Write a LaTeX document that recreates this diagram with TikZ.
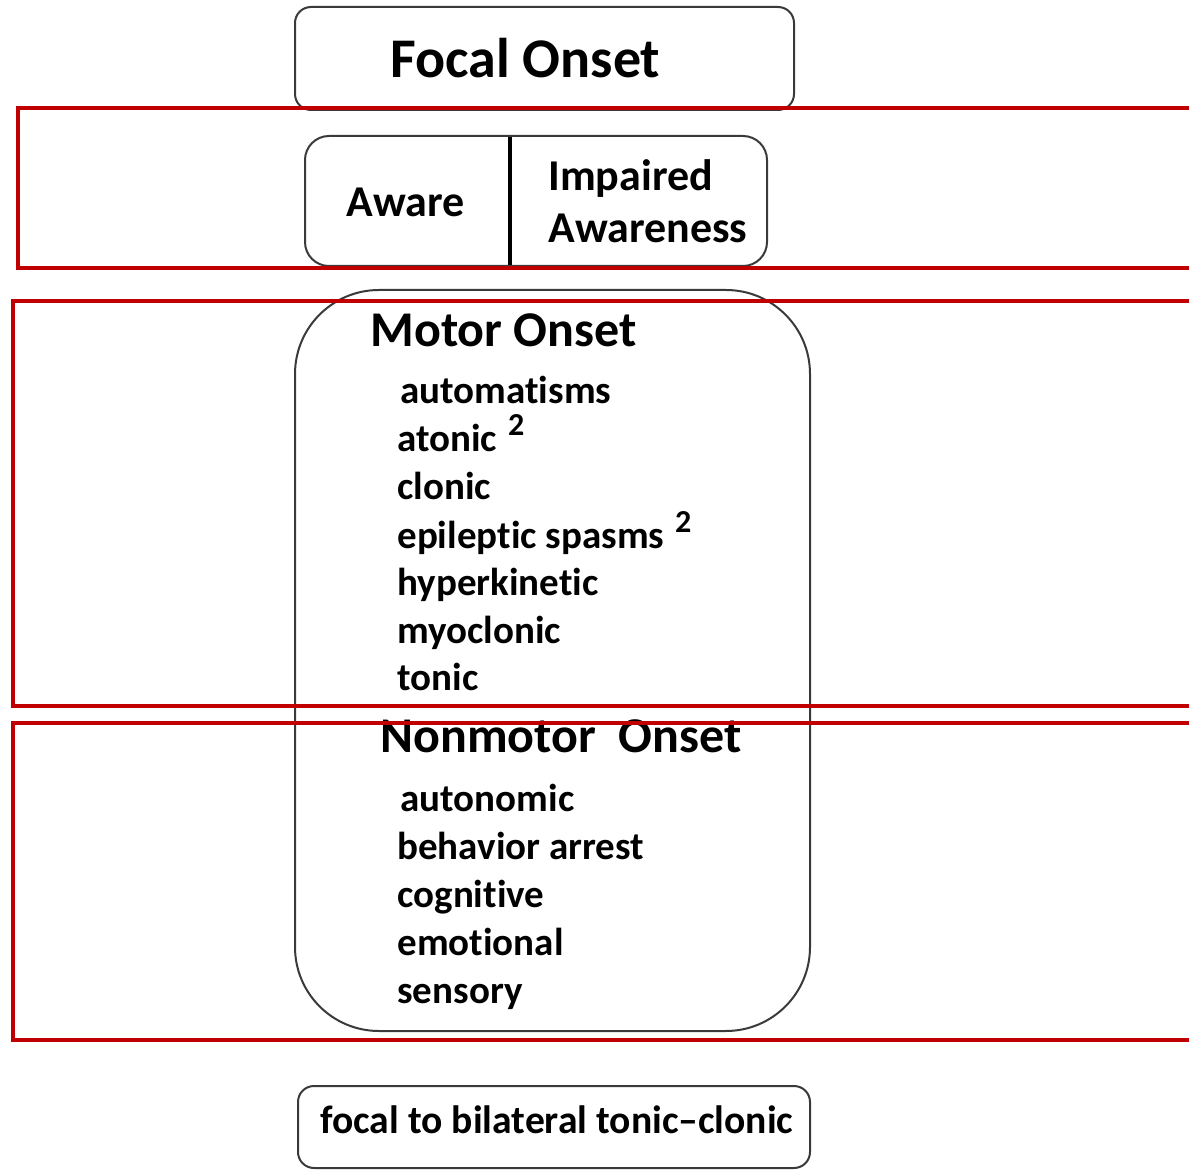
\documentclass[tikz,border=0pt]{standalone}
\usepackage{fontspec}
\setmainfont{Carlito}[RawFeature=-liga]
\usetikzlibrary{positioning}
\definecolor{BoxGray}{HTML}{3A3A3A}
\definecolor{FrameRed}{HTML}{C00000}

\begin{document}
\begin{tikzpicture}[x=0.5pt, y=-0.5pt,
		box/.style={draw=BoxGray, line width=1pt},
		redframe/.style={draw=FrameRed, line width=2pt},
		label/.style={inner sep=0pt, anchor=base west, text=black},
		listitem/.style={label, font=\bfseries\fontsize{19.5}{23}\selectfont},
		heading/.style={label, font=\bfseries\fontsize{25}{30}\selectfont},
		supnum/.style={label, font=\bfseries\fontsize{16}{18}\selectfont}]
	\clip (0,0) rectangle (1189,1171);
	\useasboundingbox (0,0) rectangle (1189,1171);

	% boxes
	\draw[box, rounded corners=8pt] (295,7) rectangle (794,110);
	\draw[box, rounded corners=12pt] (305,136) rectangle (767,266);
	\draw[black, line width=1.8pt] (510,137) -- (510,265);
	\draw[box, rounded corners=42pt] (295,290) rectangle (810,1031);
	\draw[box, rounded corners=8pt] (298,1086) rectangle (810,1168);

	% titles
	\node[label, font=\bfseries\fontsize{28}{32}\selectfont] (focal) at (390,78) {Focal Onset};
	\node[label, font=\bfseries\fontsize{22}{26}\selectfont] (aware) at (346,217) {Aware};
	\node[label, font=\bfseries\fontsize{22}{26}\selectfont] (impaired) at (548,191) {Impaired};
	\node[label, font=\bfseries\fontsize{22}{26}\selectfont] (awareness) at (548,243) {Awareness};

	% motor onset
	\node[heading] (motor) at (370,347) {Motor Onset};
	\foreach \name/\xx/\yy/\word in {autom/400/404/automatisms, aton/397/452/atonic,
			clon/397/500/clonic, spasm/397/548/epileptic spasms, hyper/397/596/hyperkinetic,
			myo/397/643/myoclonic, ton/397/690/tonic}
		\node[listitem] (\name) at (\xx,\yy) {\word};
	\node[supnum] (aton2) at ([xshift=5pt, yshift=8pt]aton.base east) {2};
	\node[supnum] (spasm2) at ([xshift=5pt, yshift=8pt]spasm.base east) {2};

	% nonmotor onset
	\node[heading] (nonmotor) at (380,752) {Nonmotor\ \ Onset};
	\foreach \name/\xx/\yy/\word in {auton/400/811/autonomic, behav/397/859/behavior arrest,
			cogn/397/907/cognitive, emot/397/955/emotional, sens/397/1003/sensory}
		\node[listitem] (\name) at (\xx,\yy) {\word};

	\node[listitem, font=\bfseries\fontsize{19.8}{24}\selectfont] (bilat) at (320,1133)
		{focal to bilateral tonic--clonic};

	% red frames
	\draw[redframe] (1200,108) -- (18,108) -- (18,268) -- (1200,268);
	\draw[redframe] (1200,301) -- (13,301) -- (13,706) -- (1200,706);
	\draw[redframe] (1200,723) -- (13,723) -- (13,1040) -- (1200,1040);
\end{tikzpicture}
\end{document}
